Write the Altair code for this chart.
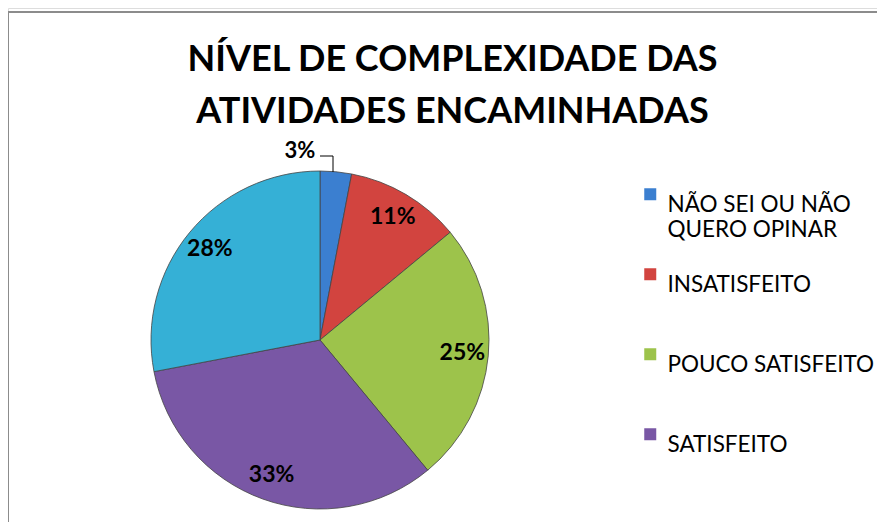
import altair as alt
import pandas as pd

categories = ["NÃO SEI OU NÃO QUERO OPINAR", "INSATISFEITO", "POUCO SATISFEITO",
              "SATISFEITO", "MUITO SATISFEITO"]
values = [3, 11, 25, 33, 28]
colors = ["#3b7fd0", "#d2443f", "#9dc34b", "#7957a5", "#35b0d6"]
legend_entries = categories[:4]
title_lines = ["NÍVEL DE COMPLEXIDADE DAS", "ATIVIDADES ENCAMINHADAS"]

df = pd.DataFrame({"cat": categories, "v": values, "idx": list(range(len(values)))})
df["lab"] = [f"{v}%" for v in values]

W, H = 869, 514
CX, CY, R = 312, 332, 169
FONT = "Lato"

theta = alt.Theta("v:Q", stack=True)
order = alt.Order("idx:Q")
color = alt.Color(
    "cat:N",
    scale=alt.Scale(domain=categories, range=colors),
    legend=alt.Legend(
        values=legend_entries,
        title=None,
        orient="none",
        legendX=631,
        legendY=175,
        symbolType="square",
        symbolSize=144,
        symbolStrokeWidth=0,
        labelFont=FONT,
        labelFontSize=22.5,
        labelColor="#000",
        labelLimit=300,
        labelOffset=6,
        rowPadding=21,
        gridAlign="all",
        labelExpr="datum.label == 'NÃO SEI OU NÃO QUERO OPINAR' ? ['NÃO SEI OU NÃO', 'QUERO OPINAR'] : datum.label",
        labelBaseline="top",
    ),
)

base = alt.Chart(df).encode(theta=theta, order=order)

pie = base.mark_arc(outerRadius=R, stroke="#444", strokeWidth=0.8).encode(
    color=color, x=alt.value(CX), y=alt.value(CY)
)

inner = base.mark_text(
    radius=143, font=FONT, fontSize=23, fontWeight="bold", color="#000"
).encode(
    text=alt.condition("datum.v >= 5", "lab:N", alt.value("")),
    x=alt.value(CX), y=alt.value(CY),
)

outer = base.mark_text(
    radius=190, dx=-38, font=FONT, fontSize=22, fontWeight="bold", color="#000"
).encode(
    text=alt.condition("datum.v < 5", "lab:N", alt.value("")),
    x=alt.value(CX), y=alt.value(CY),
)

one = pd.DataFrame({"k": [0]})
lead_h = alt.Chart(one).mark_rule(color="#000", strokeWidth=1).encode(
    x=alt.value(312), x2=alt.value(325), y=alt.value(148)
)
lead_v = alt.Chart(one).mark_rule(color="#000", strokeWidth=1).encode(
    x=alt.value(325), y=alt.value(148), y2=alt.value(164)
)
border_top = alt.Chart(one).mark_rule(color="#8c8c8c", strokeWidth=2).encode(
    x=alt.value(0), x2=alt.value(W + 10), y=alt.value(4)
)
border_left = alt.Chart(one).mark_rule(color="#8c8c8c", strokeWidth=2).encode(
    x=alt.value(0), y=alt.value(4), y2=alt.value(H + 10)
)

chart = alt.layer(border_top, border_left, pie, inner, outer, lead_h, lead_v).properties(
    width=W, height=H,
    autosize=alt.AutoSizeParams(type="none"),
    padding=0,
    title=alt.TitleParams(
        title_lines, font=FONT, fontSize=36, fontWeight="bold", color="#000",
        anchor="middle", frame="group", orient="top", offset=-123, lineHeight=52,
        baseline="top", dx=10,
    ),
).configure_view(stroke=None).configure(background="white")

chart.save("out.html", embed_options={"renderer": "svg", "actions": False})
